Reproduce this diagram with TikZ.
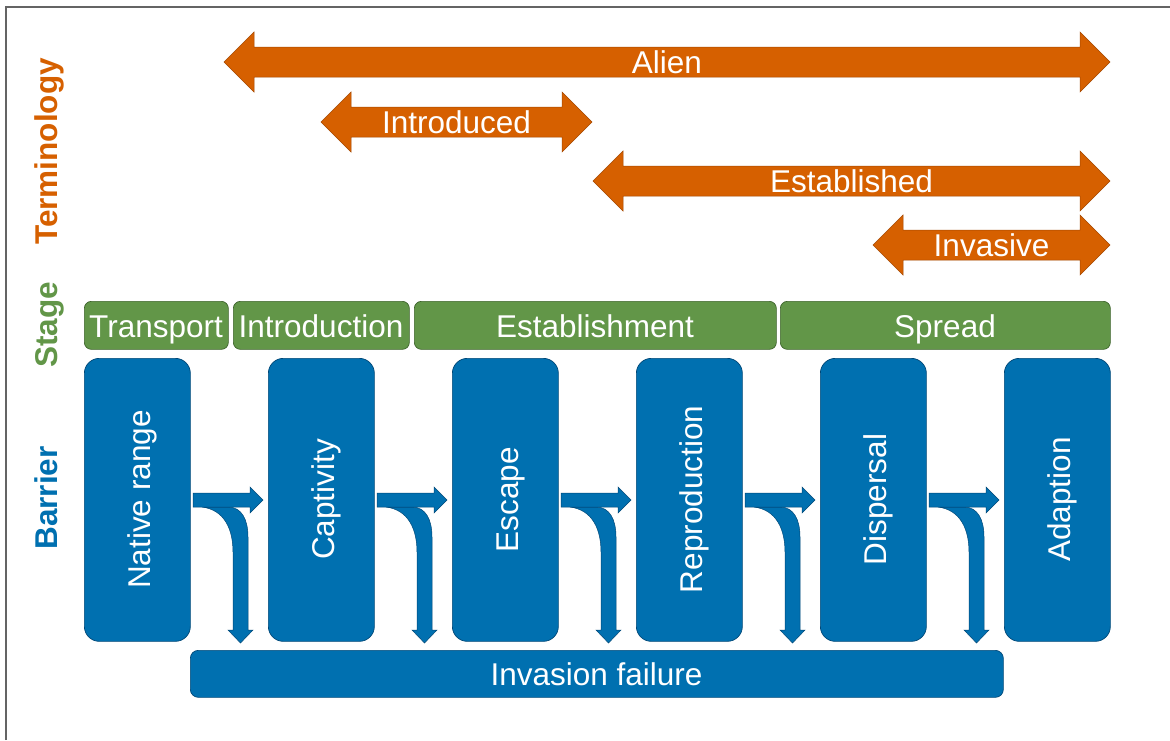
\documentclass[tikz,border=0pt]{standalone}
\usepackage{fontspec}
\setmainfont{Liberation Sans}
\definecolor{orng}{RGB}{214,96,0}
\definecolor{orngd}{RGB}{165,72,0}
\definecolor{grn}{RGB}{98,150,72}
\definecolor{grnd}{RGB}{62,100,44}
\definecolor{blu}{RGB}{0,112,176}
\definecolor{blud}{RGB}{0,72,120}
\definecolor{frame}{RGB}{100,100,100}
\tikzset{
  bigtext/.style={font=\fontsize{31.5}{36}\selectfont, text=white, inner sep=0pt, anchor=base},
  sidelabel/.style={font=\fontsize{31.5}{36}\selectfont\bfseries, inner sep=0pt, anchor=base, rotate=90},
  stagebox/.style={fill=grn, draw=grnd, line width=0.7pt, rounded corners=7pt, anchor=north west, minimum height=48pt, inner sep=0pt},
  barbox/.style={fill=blu, draw=blud, line width=0.7pt, rounded corners=15pt, anchor=north west, minimum width=106pt, minimum height=283pt, inner sep=0pt},
  failbox/.style={fill=blu, draw=blud, line width=0.7pt, rounded corners=8pt, anchor=north west, minimum width=813pt, minimum height=47pt, inner sep=0pt},
  orarrow/.style={fill=orng, draw=orngd, line width=0.5pt},
  bluearrow/.style={fill=blu, draw=blud, line width=0.5pt},
}
\newcommand\termarrow[5]{%
  \path[orarrow] (#2,#4) -- (#2+30,#4-30) -- (#2+30,#4-15) -- (#3-30,#4-15) -- (#3-30,#4-30) -- (#3,#4)
     -- (#3-30,#4+30) -- (#3-30,#4+15) -- (#2+30,#4+15) -- (#2+30,#4+30) -- cycle;
  \node[bigtext] (#1) at ({(#2+#3)/2},#4+11.5) {#5};}
\newcommand\splitarrow[1]{%
  \path[bluearrow] (#1+12,507) -- (#1+38,507) .. controls (#1+52,507) and (#1+58,520) .. (#1+58,537)
     -- (#1+58,630) -- (#1+63,630) -- (#1+50.5,643) -- (#1+38,630) -- (#1+43,630) -- (#1+43,552)
     .. controls (#1+43,530) and (#1+35,510) .. (#1+12,507) -- cycle;
  \path[bluearrow] (#1+3,493) -- (#1+60,493) -- (#1+60,487) -- (#1+73,500) -- (#1+60,513) -- (#1+60,507) -- (#1+3,507) -- cycle;}
\begin{document}
\begin{tikzpicture}[x=1pt,y=-1pt]
\useasboundingbox (0,0) rectangle (1170,740);
\fill[white] (0,0) rectangle (1170,740);
\draw[frame, line width=1.5pt] (6,740) -- (6,7) -- (1170,7);

% side labels
\node[sidelabel, text=orng] (lblterm) at (57,151.5) {Terminology};
\node[sidelabel, text=grn] (lblstage) at (57,325) {Stage};
\node[sidelabel, text=blu] (lblbarrier) at (57,498) {Barrier};

% terminology arrows
\termarrow{alien}{224}{1110}{62}{Alien}
\termarrow{introduced}{321}{592}{122}{Introduced}
\termarrow{established}{593}{1110}{181}{Established}
\termarrow{invasive}{873}{1110}{245}{Invasive}

% stage boxes
\node[stagebox, minimum width=144pt] (transport) at (84,301) {};
\node[stagebox, minimum width=176pt] (introduction) at (233,301) {};
\node[stagebox, minimum width=362pt] (establishment) at (414,301) {};
\node[stagebox, minimum width=330pt] (spread) at (780,301) {};
\node[bigtext] (ttransport) at (156,337) {Transport};
\node[bigtext] (tintroduction) at (321,337) {Introduction};
\node[bigtext] (testablishment) at (595,337) {Establishment};
\node[bigtext] (tspread) at (945,337) {Spread};

% barrier boxes
\node[barbox] (native) at (84,358) {};
\node[barbox] (captivity) at (268,358) {};
\node[barbox] (escape) at (452,358) {};
\node[barbox] (reproduction) at (636,358) {};
\node[barbox] (dispersal) at (820,358) {};
\node[barbox] (adaption) at (1004,358) {};
\node[bigtext, rotate=90] (tnative) at (150.5,499.5) {Native range};
\node[bigtext, rotate=90] (tcaptivity) at (334.5,499.5) {Captivity};
\node[bigtext, rotate=90] (tescape) at (518.5,499.5) {Escape};
\node[bigtext, rotate=90] (treproduction) at (702.5,499.5) {Reproduction};
\node[bigtext, rotate=90] (tdispersal) at (886.5,499.5) {Dispersal};
\node[bigtext, rotate=90] (tadaption) at (1070.5,499.5) {Adaption};

% failure box
\node[failbox] (failure) at (190,650) {};
\node[bigtext] (tfailure) at (596.5,685) {Invasion failure};

% split arrows
\splitarrow{190}
\splitarrow{374}
\splitarrow{558}
\splitarrow{742}
\splitarrow{926}
\end{tikzpicture}
\end{document}
